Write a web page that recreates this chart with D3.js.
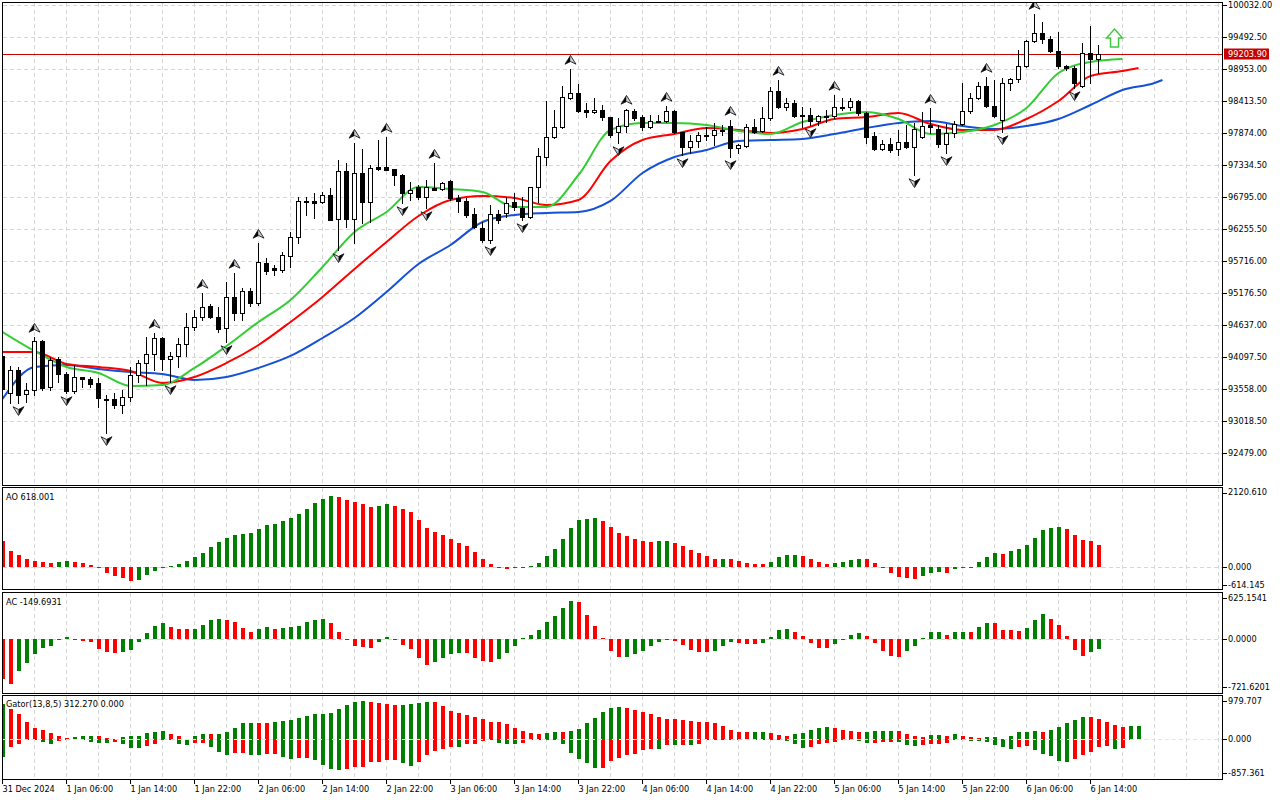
<!DOCTYPE html>
<html lang="en">
<head>
<meta charset="UTF-8">
<title>BTCUSD H1 - Alligator, AO, AC, Gator</title>
<script src="https://cdn.jsdelivr.net/npm/d3@7"></script>
<style>
  body { margin: 0; background: #fff; }
  svg { display: block; font-family: "DejaVu Sans", sans-serif; font-size: 8.2px; }
</style>
</head>
<body>
<svg width="1280" height="800"></svg>
<script>
// ---- hourly candles, 31 Dec 22:00 .. 6 Jan 15:00 ----
const open = [94115,93491,93879,93474,93542,94368,93592,94064,93811,93525,
  93761,93727,93660,93390,93390,93289,93424,93795,93997,94149,
  94418,94064,94115,94317,94604,94772,94958,94772,94587,95110,
  94840,95211,95008,95683,95598,95565,95800,96121,96728,96728,
  96711,96829,96424,97234,96424,97200,96711,97301,97301,97267,
  97166,96863,96964,96795,96950,96930,97065,96778,96728,96509,
  96273,96070,96509,96526,96711,96610,96458,96964,97470,97807,
  97975,98464,98548,98262,98228,98262,98144,97891,97992,98245,
  98144,97975,98076,98076,98245,97891,97638,97739,97841,97841,
  97925,97992,97621,97655,97975,97908,98127,98582,98312,98380,
  98178,98178,98076,98144,98161,98312,98312,98414,98211,97824,
  97604,97689,97604,97723,97638,97807,98009,97942,97689,97874,
  98026,98245,98464,98666,98329,98093,98717,98784,99004,99425,
  99560,99459,99257,99004,98970,98667,99223,99122];
const high = [94216,93946,93929,93660,94435,94385,94098,94098,93845,93963,
  93761,93761,93744,93457,93491,93542,93929,94047,94435,94503,
  94435,94182,94418,94840,94890,95177,94992,94941,95362,95514,
  95261,95261,96020,95767,95649,95868,96205,96795,96795,96863,
  96880,96947,97419,97368,97706,97604,97335,97756,97807,97267,
  97183,97048,96998,97082,97368,97048,97082,96829,96778,96610,
  96374,96660,96576,96795,96863,96795,96964,97621,98414,98262,
  98667,98953,98700,98380,98464,98346,98144,98127,98279,98279,
  98178,98178,98178,98329,98262,97891,97841,97891,97975,98043,
  98009,98093,97689,98026,98110,98312,98650,98768,98464,98431,
  98312,98296,98178,98262,98515,98464,98464,98431,98228,97891,
  97756,97790,97925,98009,98043,98228,98296,98009,98026,98076,
  98717,98548,98734,98818,98768,98801,98801,99273,99442,99880,
  99745,99509,99577,99020,99004,99391,99678,99358];
const low = [93457,93323,93323,93339,93457,93542,93542,93677,93491,93491,
  93592,93592,93255,92817,93238,93154,93356,93677,93626,93879,
  93879,93677,93929,94115,94553,94722,94755,94519,94351,94722,
  94722,94958,94975,95497,95480,95531,95615,96020,96492,96441,
  96694,96408,95902,96290,96020,96357,96374,97250,97250,96998,
  96694,96745,96762,96610,96913,96913,96745,96542,96458,96273,
  96037,96020,96357,96458,96576,96408,96441,96711,97335,97790,
  97959,98447,98228,98144,98211,98093,97807,97706,97891,98093,
  97925,97959,98059,98059,97874,97503,97537,97638,97756,97672,
  97841,97470,97537,97638,97874,97891,98093,98296,98262,98144,
  97975,98009,98009,98059,98127,98262,98262,98178,97706,97588,
  97588,97554,97503,97621,97166,97790,97874,97638,97537,97807,
  98009,98211,98447,98312,98144,97891,98599,98734,98987,99408,
  99391,99240,98970,98936,98633,98650,98717,98886];
const close = [93559,93879,93457,93542,94368,93575,94047,93811,93525,93761,
  93727,93643,93407,93373,93289,93424,93795,93997,94149,94418,
  94064,94115,94317,94604,94772,94941,94772,94570,95110,94840,
  95211,95008,95700,95548,95565,95817,96121,96728,96711,96694,
  96829,96408,97234,96424,97200,96711,97284,97267,97250,97166,
  96863,96913,96795,96964,96920,97031,96778,96728,96492,96290,
  96070,96509,96408,96694,96627,96458,96964,97487,97807,97975,
  98481,98548,98245,98228,98262,98144,97841,97992,98262,98127,
  97975,98076,98059,98245,97891,97638,97739,97841,97824,97925,
  97908,97621,97672,97975,97891,98127,98582,98312,98380,98161,
  98161,98076,98161,98161,98312,98296,98414,98211,97807,97604,
  97689,97588,97723,97638,97942,97992,97975,97689,97874,98026,
  98245,98464,98666,98329,98161,98717,98784,99004,99425,99560,
  99459,99257,99004,98970,98717,99223,99122,99203.9];

const bidPrice = 99203.90;

// Bill Williams fractals (bar indices)
const fractalUp = [4,19,25,29,32,44,48,54,71,78,83,91,97,104,116,123,129];
const fractalDown = [2,8,13,21,28,42,50,53,61,65,77,85,91,101,114,118,125,134];

// Alligator lines, [bar, price] read every 4 bars (shifted 8 / 5 / 3 bars forward)
const jaw = [[0,93390],[4,93929],[8,93963],[12,93896],[16,93845],[20,93811],[24,93710],[28,93761],
  [32,93913],[36,94115],[40,94418],[44,94755],[48,95194],[52,95666],[56,95986],[60,96374],
  [64,96492],[68,96526],[72,96542],[76,96728],[80,97200],[84,97470],[88,97588],[92,97739],
  [96,97756],[100,97773],[104,97857],[108,97959],[112,98043],[116,98076],[120,97992],[124,97942],
  [128,97992],[132,98110],[136,98346],[140,98599],[144,98717],[145,98768]];
const teeth = [[0,94182],[4,94182],[8,93980],[12,93929],[16,93862],[20,93660],[24,93761],[28,93997],
  [32,94300],[36,94688],[40,95110],[44,95581],[48,96037],[52,96475],[56,96745],[60,96812],
  [64,96778],[68,96660],[72,96745],[76,97402],[80,97756],[84,97857],[88,97959],[92,97925],
  [96,97874],[100,97942],[104,98110],[108,98144],[112,98211],[116,98026],[120,97925],[124,97925],
  [128,98110],[132,98414],[136,98835],[140,98919],[142,98970]];
const lips = [[0,94519],[4,94199],[8,93929],[12,93828],[16,93609],[20,93626],[24,93913],[28,94283],
  [32,94688],[36,95059],[40,95615],[44,96205],[48,96542],[52,96964],[56,96930],[60,96880],
  [64,96627],[68,96627],[72,97166],[76,97925],[80,98043],[84,98043],[88,98009],[92,97908],
  [96,97857],[100,98059],[104,98178],[108,98228],[112,98110],[116,97857],[120,97891],[124,98009],
  [128,98296],[132,98885],[136,99071],[140,99122]];

// buy signal arrow
const signalBar = 139, signalPrice = 99475;

// Awesome Oscillator
const ao = [739,455,341,227,171,142,114,142,171,142,
  114,57,-37,-162,-247,-321,-389,-361,-227,-105,
  -20,20,85,171,284,398,569,711,833,910,
  947,958,1089,1194,1222,1316,1402,1507,1658,1820,
  1933,2019,1990,1905,1848,1791,1706,1734,1791,1734,
  1649,1564,1336,1109,995,910,796,673,597,426,
  227,85,5,-66,-20,-10,28,114,313,512,
  796,1109,1336,1365,1393,1308,1137,967,881,796,
  739,711,739,745,682,597,483,398,313,227,
  232,225,171,114,85,83,142,284,341,345,
  313,227,142,85,114,142,199,227,220,114,
  -15,-162,-276,-304,-333,-247,-162,-134,-162,-57,
  -20,5,142,284,398,378,455,512,634,824,
  1052,1109,1137,1080,910,768,739,618.001];

// Accelerator Oscillator
const ac = [-600,-679,-478,-357,-226,-136,-106,3,30,-15,
  -25,-50,-151,-191,-206,-200,-166,-50,91,196,
  241,181,151,150,152,211,287,302,287,257,
  166,106,151,181,151,166,181,196,257,287,
  302,241,106,-15,-106,-121,-136,-40,30,-5,
  -91,-151,-287,-392,-347,-287,-226,-211,-215,-287,
  -332,-347,-302,-206,-106,10,60,136,257,347,
  468,573,558,362,196,15,-176,-272,-270,-226,
  -176,-106,-40,-5,-30,-91,-166,-191,-195,-176,
  -106,-40,-55,-70,-72,-55,30,136,151,106,
  45,-60,-130,-136,-75,-10,60,91,45,-60,
  -181,-257,-272,-181,-106,15,106,108,60,106,
  108,105,181,241,238,136,134,121,171,287,
  377,302,211,45,-166,-252,-191,-149.6931];

// Gator oscillator: |jaw - teeth| (up) and -|teeth - lips| (down)
const gatorUp = [900,762,644,440,288,237,161,85,34,68,
  80,90,85,34,20,51,76,80,161,186,
  212,136,85,10,85,136,130,140,186,288,
  407,415,412,410,440,466,491,542,593,644,
  650,669,771,872,949,974,949,923,898,881,
  885,898,923,949,945,847,720,669,618,567,
  517,440,438,390,288,212,161,136,161,186,
  180,212,263,415,542,695,796,822,796,745,
  695,644,567,517,515,491,466,440,438,415,
  339,237,186,184,188,190,161,110,85,136,
  161,237,288,313,288,237,212,186,190,212,
  215,218,212,136,76,51,102,104,100,136,
  85,51,34,51,60,17,93,180,195,220,
  195,246,322,424,500,575,570,525,449,373,
  322,347,350];
const gatorDown = [-460,-203,-136,-5,-3,-76,-136,-59,-17,-25,
  -30,-85,-95,-102,-85,-136,-237,-240,-186,-119,
  -25,-30,-136,-161,-110,-105,-212,-339,-415,-364,
  -360,-415,-418,-390,-388,-466,-517,-491,-488,-542,
  -669,-771,-796,-771,-720,-700,-593,-590,-542,-540,
  -618,-695,-593,-415,-313,-263,-203,-205,-136,-134,
  -51,-17,-102,-119,-136,-102,-34,-5,-4,-3,
  -136,-364,-517,-618,-745,-740,-567,-491,-415,-390,
  -288,-246,-263,-161,-165,-155,-161,-136,-17,-15,
  -34,-17,-20,-3,-6,-34,-3,-2,-59,-136,
  -237,-212,-136,-102,-85,-34,-30,-59,-102,-100,
  -85,-80,-85,-161,-186,-161,-136,-134,-110,-17,
  -15,-59,-60,-85,-161,-200,-246,-200,-178,-280,
  -381,-432,-559,-584,-500,-407,-330,-203,-178,-246,
  -229,-25];

// axis labels
const priceTicks = [100032.00,99492.50,98953.00,98413.50,97874.00,97334.50,96795.00,96255.50,
  95716.00,95176.50,94637.00,94097.50,93558.00,93018.50,92479.00];
const aoTicks = [2120.610, 0, -614.145];
const acTicks = [625.1541, 0, -721.6201];
const gatorTicks = [979.707, 0, -857.361];
const timeLabels = ["31 Dec 2024","1 Jan 06:00","1 Jan 14:00","1 Jan 22:00","2 Jan 06:00",
  "2 Jan 14:00","2 Jan 22:00","3 Jan 06:00","3 Jan 14:00","3 Jan 22:00","4 Jan 06:00",
  "4 Jan 14:00","4 Jan 22:00","5 Jan 06:00","5 Jan 14:00","5 Jan 22:00","6 Jan 06:00","6 Jan 14:00"];
const gatorTitle = "Gator(13,8,5) 312.270 0.000";

// ---- layout ----
const svg = d3.select("svg");
const GREEN = "#008000", RED = "#ff0000";
const GRID = "#d6d6d6";
const axisX = 1222.5;

// plain hyphen for negatives, like the terminal prints them
const locale = d3.formatLocale({ decimal: ".", thousands: "", grouping: [3], currency: ["", ""], minus: "-" });
const f2 = locale.format(".2f"), f3 = locale.format(".3f"), f4 = locale.format(".4f");

const panels = {
  main:  { top: 2.5,   bottom: 485.5 },
  ao:    { top: 487.5, bottom: 589.5 },
  ac:    { top: 592.5, bottom: 693.5 },
  gator: { top: 695.5, bottom: 779.5 }
};

const x = d3.scaleLinear().domain([0, 152.5]).range([2, 1222]);
const y = d3.scaleLinear().domain([92479, 100032]).range([453, 5]);
const yAO = d3.scaleLinear().domain([-614.145, 2120.61]).range([588.6, 492.4]);
const yAC = d3.scaleLinear().domain([-721.6201, 625.1541]).range([686.8, 597.6]);
const yG = d3.scaleLinear().domain([-857.361, 979.707]).range([773.25, 700.9]);

const defs = svg.append("defs");
Object.entries(panels).forEach(([k, p]) => {
  defs.append("clipPath").attr("id", "clip-" + k)
    .append("rect").attr("x", 3).attr("y", p.top + 0.5)
    .attr("width", axisX - 3.5).attr("height", p.bottom - p.top - 1);
});

const gridBars = d3.range(4, 153, 4);

function panelGrid(key) {
  const p = panels[key];
  const g = svg.append("g").attr("clip-path", `url(#clip-${key})`)
    .attr("shape-rendering", "crispEdges");
  g.selectAll("line.v").data(gridBars).join("line")
    .attr("x1", d => Math.round(x(d)) + 0.5).attr("x2", d => Math.round(x(d)) + 0.5)
    .attr("y1", p.top).attr("y2", p.bottom)
    .attr("stroke", GRID).attr("stroke-dasharray", "4,3");
  return g;
}

// main panel grid
const mainGrid = panelGrid("main");
mainGrid.selectAll("line.h").data(priceTicks).join("line")
  .attr("x1", 3).attr("x2", axisX)
  .attr("y1", d => Math.round(y(d)) + 0.5).attr("y2", d => Math.round(y(d)) + 0.5)
  .attr("stroke", GRID).attr("stroke-dasharray", "4,3");

// sub panel grids + zero lines
[["ao", yAO], ["ac", yAC], ["gator", yG]].forEach(([k, sc]) => {
  const g = panelGrid(k);
  if (k !== "gator") {
    g.append("line").attr("x1", 3).attr("x2", axisX)
      .attr("y1", Math.round(sc(0)) + 0.5).attr("y2", Math.round(sc(0)) + 0.5)
      .attr("stroke", GRID).attr("stroke-dasharray", "4,3");
  }
});

// ---- main: price line ----
const plot = svg.append("g").attr("clip-path", "url(#clip-main)");
plot.append("line").attr("x1", 3).attr("x2", axisX)
  .attr("y1", Math.round(y(bidPrice)) + 0.5).attr("y2", Math.round(y(bidPrice)) + 0.5)
  .attr("stroke", "#c80000").attr("shape-rendering", "crispEdges");

// ---- alligator ----
const line = d3.line().x(d => x(d[0]) + 0.5).y(d => y(d[1])).curve(d3.curveMonotoneX);
[[jaw, "#1450d8"], [teeth, "#ff0000"], [lips, "#32cd32"]].forEach(([data, col]) => {
  plot.append("path").datum(data).attr("d", line)
    .attr("fill", "none").attr("stroke", col).attr("stroke-width", 2)
    .attr("stroke-linejoin", "round");
});

// ---- candles ----
const bars = d3.range(open.length);
const cg = plot.append("g").attr("shape-rendering", "crispEdges");
cg.selectAll("line.wick").data(bars).join("line")
  .attr("x1", i => Math.round(x(i)) + 0.5).attr("x2", i => Math.round(x(i)) + 0.5)
  .attr("y1", i => Math.round(y(high[i]))).attr("y2", i => Math.round(y(low[i])) + 1)
  .attr("stroke", "#000");
cg.selectAll("rect.body").data(bars).join("rect")
  .attr("x", i => Math.round(x(i)) - 1.5)
  .attr("y", i => Math.round(y(Math.max(open[i], close[i]))) + 0.5)
  .attr("width", 4)
  .attr("height", i => Math.max(0.01, Math.round(y(Math.min(open[i], close[i]))) - Math.round(y(Math.max(open[i], close[i])))))
  .attr("fill", i => close[i] >= open[i] ? "#fff" : "#000")
  .attr("stroke", "#000");

// ---- fractals ----
const fg = plot.append("g");
function fractal(i, up) {
  const cx = Math.round(x(i)) + 0.5;
  const cy = up ? y(high[i]) - 9 : y(low[i]) + 8;
  const s = up ? 1 : -1;
  const g = fg.append("g").attr("transform", `translate(${cx},${cy}) scale(1,${s})`);
  g.append("path").attr("d", "M0,-4.5 L0,1.5 L-5.5,4.2 Z").attr("fill", up ? "#000" : "#c9d0de");
  g.append("path").attr("d", "M0,-4.5 L5.5,4.2 L0,1.5 Z").attr("fill", up ? "#c9d0de" : "#000");
  g.append("path").attr("d", "M0,-4.5 L5.5,4.2 L0,1.5 L-5.5,4.2 Z")
    .attr("fill", "none").attr("stroke", "#1a1a1a").attr("stroke-width", 0.9)
    .attr("stroke-linejoin", "round");
}
fractalUp.forEach(i => fractal(i, true));
fractalDown.forEach(i => fractal(i, false));

// ---- buy arrow ----
const ax = x(signalBar) + 0.5, ay = y(signalPrice);
plot.append("path")
  .attr("d", `M${ax},${ay - 9} L${ax + 8},${ay} L${ax + 4},${ay} L${ax + 4},${ay + 9} L${ax - 4},${ay + 9} L${ax - 4},${ay} L${ax - 8},${ay} Z`)
  .attr("fill", "#fff").attr("stroke", "#3cc83c").attr("stroke-width", 1.4);

// ---- histograms ----
function histo(key, sc, values, firstColor, absMode) {
  const g = svg.append("g").attr("clip-path", `url(#clip-${key})`).attr("shape-rendering", "crispEdges");
  const z = sc(0);
  g.selectAll("rect").data(values).join("rect")
    .attr("x", (d, i) => Math.round(x(i)) - 1)
    .attr("width", 4)
    .attr("y", d => Math.round(Math.min(sc(d), z)))
    .attr("height", d => Math.max(1, Math.round(Math.abs(sc(d) - z))))
    .attr("fill", (d, i) => {
      if (i === 0) return firstColor;
      const prev = values[i - 1];
      const up = absMode ? Math.abs(d) > Math.abs(prev) : d > prev;
      return up ? GREEN : RED;
    });
  return g;
}
histo("ao", yAO, ao, RED, false);
histo("ac", yAC, ac, RED, false);
histo("gator", yG, gatorUp, GREEN, true);
const gg = histo("gator", yG, gatorDown, GREEN, true);
gg.append("line").attr("x1", 3).attr("x2", axisX)
  .attr("y1", Math.round(yG(0)) + 0.5).attr("y2", Math.round(yG(0)) + 0.5)
  .attr("stroke", "#e4e4e4").attr("stroke-dasharray", "4,3");

// ---- frames ----
Object.values(panels).forEach(p => {
  svg.append("rect").attr("x", 2.5).attr("y", p.top)
    .attr("width", axisX - 2.5).attr("height", p.bottom - p.top)
    .attr("fill", "none").attr("stroke", "#000").attr("shape-rendering", "crispEdges");
});

// ---- right axis ----
function rightAxis(ticks, sc, p, fmt) {
  const g = svg.append("g");
  ticks.forEach(v => {
    const ty = Math.max(p.top + 5, Math.min(p.bottom - 4.5, sc(v)));
    g.append("line").attr("x1", axisX).attr("x2", axisX + 4)
      .attr("y1", Math.round(ty) + 0.5).attr("y2", Math.round(ty) + 0.5)
      .attr("stroke", "#000").attr("shape-rendering", "crispEdges");
    g.append("text").attr("x", 1228).attr("y", ty).attr("dy", "0.36em")
      .attr("fill", "#000").text(fmt(v));
  });
}
priceTicks.forEach(v => {
  const ty = Math.round(y(v)) + 0.5;
  svg.append("line").attr("x1", axisX).attr("x2", axisX + 4).attr("y1", ty).attr("y2", ty)
    .attr("stroke", "#000").attr("shape-rendering", "crispEdges");
  svg.append("text").attr("x", 1228).attr("y", ty).attr("dy", "0.36em").text(f2(v));
});
rightAxis(aoTicks, yAO, panels.ao, f3);
rightAxis(acTicks, yAC, panels.ac, f4);
rightAxis(gatorTicks, yG, panels.gator, f3);

// bid label
const by = y(bidPrice);
svg.append("rect").attr("x", 1224).attr("y", Math.round(by) - 5.5).attr("width", 45).attr("height", 11)
  .attr("fill", "#c80000");
svg.append("text").attr("x", 1228).attr("y", by).attr("dy", "0.36em").attr("fill", "#fff")
  .text(f2(bidPrice));

// ---- panel titles ----
svg.append("text").attr("x", 6).attr("y", 500).text("AO " + f3(ao[ao.length - 1]));
svg.append("text").attr("x", 6).attr("y", 604.7).text("AC " + f4(ac[ac.length - 1]));
svg.append("text").attr("x", 6).attr("y", 707.3).text(gatorTitle);

// ---- time axis ----
const tg = svg.append("g");
timeLabels.forEach((t, k) => {
  const tx = Math.round(x(k * 8)) + 0.5;
  tg.append("line").attr("x1", tx).attr("x2", tx).attr("y1", panels.gator.bottom).attr("y2", 784)
    .attr("stroke", "#000").attr("shape-rendering", "crispEdges");
  tg.append("text").attr("x", tx).attr("y", 792).text(t);
});
</script>
</body>
</html>
